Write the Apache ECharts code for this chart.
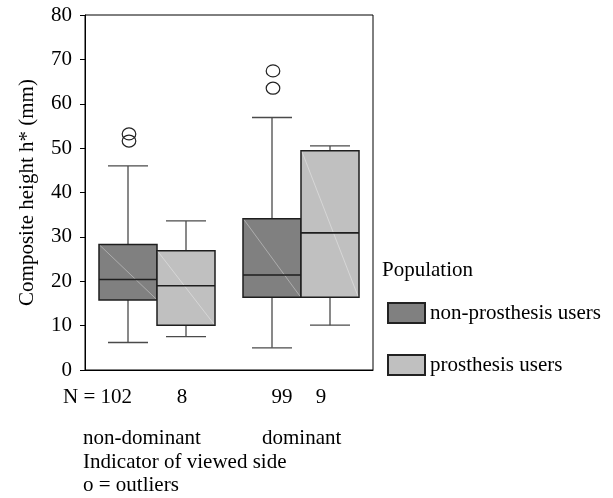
<!DOCTYPE html>
<html>
<head>
<meta charset="utf-8">
<script src="https://cdn.jsdelivr.net/npm/echarts@6/dist/echarts.min.js"></script>
<style>html,body{margin:0;padding:0;background:#fff;}#c{width:613px;height:498px;}</style>
</head>
<body>
<div id="c"></div>
<script>
// ---- data ----
var categories = ['non-dominant', 'dominant'];
var seriesNames = ['non-prosthesis users', 'prosthesis users'];
// [categoryIndex, lowWhisker, Q1, median, Q3, highWhisker]
var nonProsthesis = [
  [0, 6.2, 15.8, 20.4, 28.3, 46.0],
  [1, 5.0, 16.4, 21.4, 34.1, 56.9]
];
var prosthesis = [
  [0, 7.5, 10.1, 19.0, 26.9, 33.6],
  [1, 10.1, 16.4, 30.9, 49.4, 50.5]
];
// [categoryIndex, side (-1 non-prosthesis, 1 prosthesis), value]
var outliers = [
  [0, -1, 53.2],
  [0, -1, 51.6],
  [1, -1, 67.4],
  [1, -1, 63.5]
];
var nLabels = ['N = 102', '8', '99', '9'];
var yTicks = {min: 0, max: 80, interval: 10};
var yTitle = 'Composite height h* (mm)';
var xTitle = 'Indicator of viewed side';
var noteText = 'o = outliers';
var legendTitle = 'Population';

// ---- styles ----
var FONT = 'Liberation Serif';
var FS = 21;
var colors = ['#808080', '#c0c0c0'];
var BOX_FRAC = 58 / 144;
var CAP_FRAC = 40 / 144;

function makeRender(side, fill) {
  return function (params, api) {
    var cat = api.value(0);
    var band = api.size([1, 0])[0];
    var bw = band * BOX_FRAC;
    var cw = band * CAP_FRAC;
    var c = api.coord([cat, 0]);
    var cx = c[0] + side * bw / 2;
    var yLow = api.coord([cat, api.value(1)])[1];
    var yQ1 = api.coord([cat, api.value(2)])[1];
    var yMed = api.coord([cat, api.value(3)])[1];
    var yQ3 = api.coord([cat, api.value(4)])[1];
    var yHigh = api.coord([cat, api.value(5)])[1];
    var wStyle = {stroke: '#4a4a4a', lineWidth: 1.3};
    return {
      type: 'group',
      children: [
        {type: 'line', shape: {x1: cx, y1: yLow, x2: cx, y2: yQ1}, style: wStyle},
        {type: 'line', shape: {x1: cx, y1: yQ3, x2: cx, y2: yHigh}, style: wStyle},
        {type: 'line', shape: {x1: cx - cw / 2, y1: yLow, x2: cx + cw / 2, y2: yLow}, style: wStyle},
        {type: 'line', shape: {x1: cx - cw / 2, y1: yHigh, x2: cx + cw / 2, y2: yHigh}, style: wStyle},
        {type: 'rect', shape: {x: cx - bw / 2, y: yQ3, width: bw, height: yQ1 - yQ3},
          style: {fill: fill, stroke: '#1e1e1e', lineWidth: 1.5}},
        {type: 'line', shape: {x1: cx - bw / 2 + 1, y1: yQ3 + 1, x2: cx + bw / 2 - 1, y2: yQ1 - 1},
          style: {stroke: 'rgba(255,255,255,0.35)', lineWidth: 1}},
        {type: 'line', shape: {x1: cx - bw / 2, y1: yMed, x2: cx + bw / 2, y2: yMed},
          style: {stroke: '#1e1e1e', lineWidth: 1.6}}
      ]
    };
  };
}

function renderOutlier(params, api) {
  var cat = api.value(0);
  var side = api.value(1);
  var band = api.size([1, 0])[0];
  var bw = band * BOX_FRAC;
  var p = api.coord([cat, api.value(2)]);
  return {
    type: 'ellipse',
    shape: {cx: p[0] + side * bw / 2 + 1, cy: p[1], rx: 6.8, ry: 6},
    style: {fill: 'none', stroke: '#222', lineWidth: 1.2}
  };
}

var chart = echarts.init(document.getElementById('c'), null, {renderer: 'canvas'});

var textStyle = {fontFamily: FONT, fontSize: FS, fill: '#000'};
function txt(str, x, y, align) {
  return {type: 'text', x: x, y: y,
    style: Object.assign({text: str, textAlign: align || 'left', textVerticalAlign: 'middle'}, textStyle)};
}

var option = {
  animation: false,
  backgroundColor: '#fff',
  grid: {left: 85, right: 240, top: 15, bottom: 128, show: true, borderColor: '#000', borderWidth: 1, backgroundColor: 'transparent'},
  xAxis: {
    type: 'category',
    data: categories,
    boundaryGap: true,
    axisLine: {lineStyle: {color: '#000', width: 1}},
    axisTick: {alignWithLabel: true, length: 5, lineStyle: {color: '#000'}},
    axisLabel: {show: false},
    splitLine: {show: false}
  },
  yAxis: {
    type: 'value',
    min: yTicks.min, max: yTicks.max, interval: yTicks.interval,
    name: yTitle,
    nameLocation: 'middle',
    nameGap: 47,
    nameTextStyle: {fontFamily: FONT, fontSize: FS, color: '#000'},
    axisLine: {show: true, lineStyle: {color: '#000', width: 1}},
    axisTick: {show: true, length: 5, lineStyle: {color: '#000'}},
    axisLabel: {margin: 13, fontFamily: FONT, fontSize: FS, color: '#000'},
    splitLine: {show: false}
  },
  legend: {
    data: seriesNames,
    orient: 'vertical',
    left: 387,
    top: 302,
    padding: 0,
    itemWidth: 37,
    itemHeight: 20,
    itemGap: 30,
    icon: 'rect',
    textStyle: {fontFamily: FONT, fontSize: FS, color: '#000'},
    selectedMode: false
  },
  series: [
    {
      name: seriesNames[0], type: 'custom', renderItem: makeRender(-1, colors[0]),
      itemStyle: {color: colors[0], borderColor: '#222', borderWidth: 1},
      encode: {x: 0, y: [1, 2, 3, 4, 5]},
      data: nonProsthesis
    },
    {
      name: seriesNames[1], type: 'custom', renderItem: makeRender(1, colors[1]),
      itemStyle: {color: colors[1], borderColor: '#222', borderWidth: 1},
      encode: {x: 0, y: [1, 2, 3, 4, 5]},
      data: prosthesis
    },
    {
      name: 'outliers', type: 'custom', renderItem: renderOutlier,
      encode: {x: 0, y: 2},
      data: outliers
    }
  ],
  graphic: [
    txt(nLabels[0], 63, 397),
    txt(nLabels[1], 182, 397, 'center'),
    txt(nLabels[2], 282, 397, 'center'),
    txt(nLabels[3], 321, 397, 'center'),
    txt(categories[0], 83, 438),
    txt(categories[1], 262, 438),
    txt(xTitle, 83, 462),
    txt(noteText, 83, 485),
    txt(legendTitle, 382, 270)
  ]
};
chart.setOption(option);
</script>
</body>
</html>
